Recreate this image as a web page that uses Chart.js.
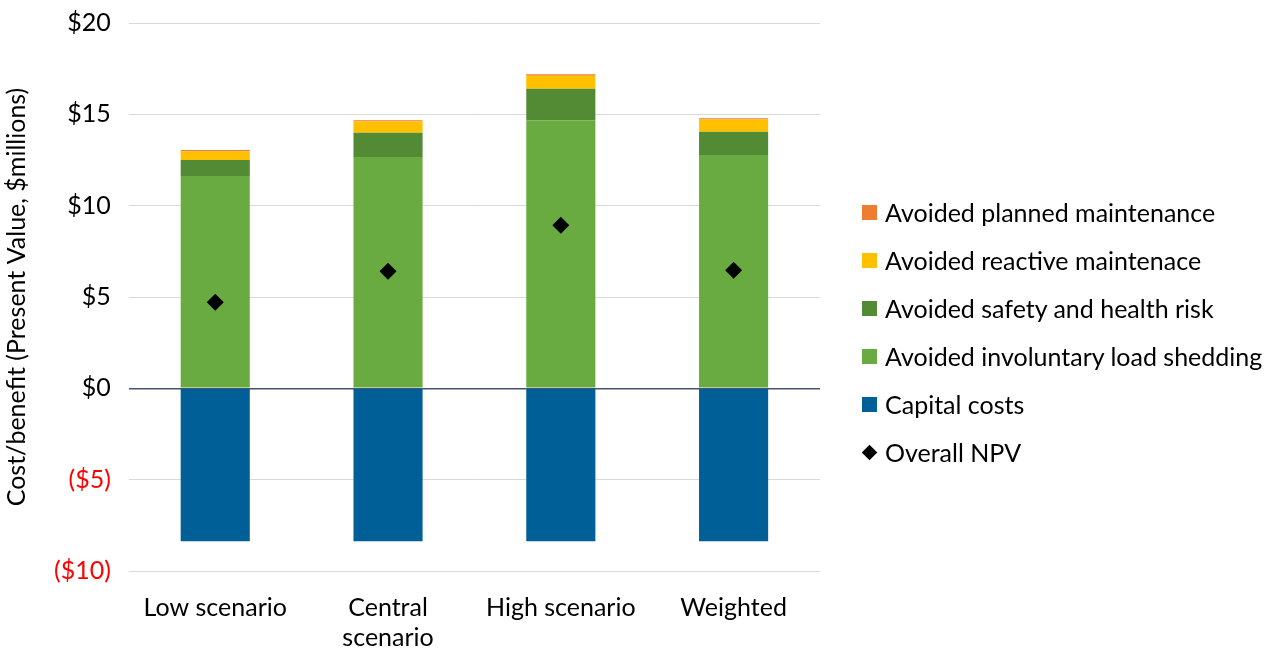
<!DOCTYPE html>
<html>
<head>
<meta charset="utf-8">
<script src="https://cdn.jsdelivr.net/npm/chart.js@4"></script>
<style>
  html, body { margin: 0; padding: 0; background: #fff; overflow: hidden; }
  #wrap { width: 1283px; height: 651px; position: relative; overflow: hidden; }
  #chartBox { position: absolute; left: 0; top: -10px; width: 1283px; height: 657px; }
  #legend { position: absolute; left: 862px; top: 188px; font-family: Lato, sans-serif; font-size: 25px; color: #000; }
  #legend .item { height: 48px; display: flex; align-items: center; white-space: nowrap; }
  #legend .box { width: 15px; height: 15px; margin-right: 8px; flex: none; }
  #legend .dia { width: 11px; height: 11px; margin: 0 10px 0 2px; transform: rotate(45deg); background: #000; flex: none; }
</style>
</head>
<body>
<div id="wrap"><div id="chartBox"><canvas id="npvChart"></canvas></div><div id="legend"></div></div>
<script>
// categories and values ($ millions, present value)
const scenarios = ['Low scenario', ['Central', 'scenario'], 'High scenario', 'Weighted'];
const capitalCosts = [-8.37, -8.37, -8.37, -8.37];
const loadShedding = [11.62, 12.66, 14.68, 12.77];
const safetyHealth = [0.88, 1.33, 1.72, 1.27];
const reactiveMaint = [0.46, 0.62, 0.71, 0.68];
const plannedMaint = [0.09, 0.07, 0.09, 0.07];
const overallNpv = [4.71, 6.41, 8.93, 6.47];
const yTicks = [-10, -5, 0, 5, 10, 15, 20];

// order the legend shows items in
const legendOrder = [
    'Avoided planned maintenance',
    'Avoided reactive maintenace',
    'Avoided safety and health risk',
    'Avoided involuntary load shedding',
    'Capital costs',
    'Overall NPV'
];

function fmtMoney(v) {
    return v < 0 ? '($' + Math.abs(v) + ')' : '$' + v;
}

const ctx = document.getElementById('npvChart').getContext('2d');
const npvChart = new Chart(ctx, {
    type: 'bar',
    data: {
        labels: scenarios,
        datasets: [
            { label: 'Capital costs', data: capitalCosts, backgroundColor: '#005f96', stack: 'a', order: 1 },
            { label: 'Avoided involuntary load shedding', data: loadShedding, backgroundColor: '#6aab41', stack: 'a', order: 1 },
            { label: 'Avoided safety and health risk', data: safetyHealth, backgroundColor: '#538a34', stack: 'a', order: 1 },
            { label: 'Avoided reactive maintenace', data: reactiveMaint, backgroundColor: '#ffc000', stack: 'a', order: 1 },
            { label: 'Avoided planned maintenance', data: plannedMaint, backgroundColor: '#ed7d31', stack: 'a', order: 1 },
            {
                type: 'line',
                label: 'Overall NPV',
                data: overallNpv,
                stack: 'npv',
                order: 0,
                showLine: false,
                pointStyle: 'rectRot',
                pointRadius: 8.5,
                pointHoverRadius: 8.5,
                backgroundColor: '#000',
                borderColor: '#000',
                borderWidth: 0
            }
        ]
    },
    options: {
        responsive: true,
        maintainAspectRatio: false,
        animation: false,
        datasets: {
            bar: { barPercentage: 0.4, categoryPercentage: 1 }
        },
        layout: { padding: { top: 0, right: 463, bottom: -20, left: 2 } },
        plugins: {
            tooltip: { enabled: false },
            legend: { display: false }
        },
        scales: {
            x: {
                stacked: true,
                grid: { display: false },
                border: { display: false },
                ticks: {
                    font: { family: 'Lato', size: 25, lineHeight: 1.2 },
                    color: '#000',
                    padding: 14,
                    maxRotation: 0
                }
            },
            y: {
                stacked: true,
                min: -10,
                max: 20,
                afterBuildTicks: axis => { axis.ticks = yTicks.map(v => ({ value: v })); },
                border: { display: false },
                grid: {
                    color: c => c.tick && c.tick.value === 0 ? '#44546a' : '#d9d9d9',
                    lineWidth: c => c.tick && c.tick.value === 0 ? 1.5 : 1,
                    drawTicks: false
                },
                ticks: {
                    font: { family: 'Lato', size: 25 },
                    color: c => c.tick.value < 0 ? '#ff0000' : '#000',
                    padding: 18,
                    callback: v => fmtMoney(v)
                },
                title: {
                    display: true,
                    text: 'Cost/benefit (Present Value, $millions)',
                    font: { family: 'Lato', size: 25 },
                    color: '#000',
                    padding: { top: 0, bottom: 4 }
                }
            }
        }
    }
});

// legend built from the chart's own datasets
const legendEl = document.getElementById('legend');
legendOrder.forEach(name => {
    const ds = npvChart.data.datasets.find(d => d.label === name);
    const row = document.createElement('div');
    row.className = 'item';
    const mark = document.createElement('span');
    if (ds.type === 'line') {
        mark.className = 'dia';
    } else {
        mark.className = 'box';
        mark.style.background = ds.backgroundColor;
    }
    row.appendChild(mark);
    row.appendChild(document.createTextNode(ds.label));
    legendEl.appendChild(row);
});
</script>
</body>
</html>
